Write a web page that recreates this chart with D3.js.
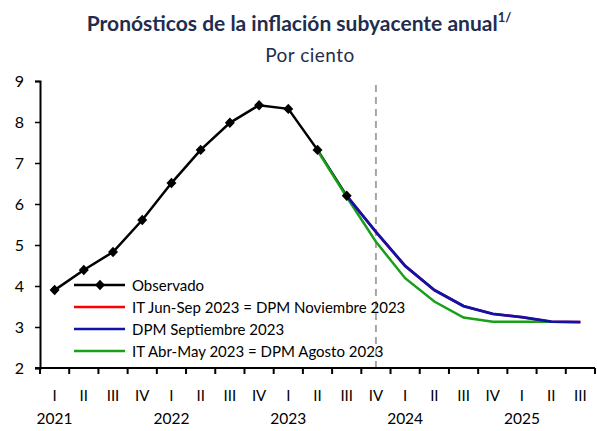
<!DOCTYPE html>
<html>
<head>
<meta charset="utf-8">
<script src="https://cdn.jsdelivr.net/npm/d3@7"></script>
<style>
  body { margin: 0; background: #fff; }
  text { font-family: Lato, "Open Sans", sans-serif; }
</style>
</head>
<body>
<div id="chart"></div>
<script>
// quarters 2021 I .. 2025 III
const quarters = ["I","II","III","IV","I","II","III","IV","I","II","III","IV","I","II","III","IV","I","II","III"];
const years = ["2021","2022","2023","2024","2025"];
const yTicks = [2,3,4,5,6,7,8,9];

// observado: 2021 I .. 2023 III
const observado = [3.90, 4.39, 4.83, 5.61, 6.51, 7.32, 7.98, 8.41, 8.32, 7.32, 6.20];
// forecasts start at 2023 III (index 10)
const itJunSep = [6.20, 5.32, 4.49, 3.90, 3.51, 3.32, 3.24, 3.13, 3.12];
const dpmSep   = [6.20, 5.32, 4.49, 3.90, 3.51, 3.32, 3.24, 3.13, 3.12];
// starts at 2023 II (index 9), ends 2025 II
const itAbrMay = [7.30, 6.17, 5.08, 4.19, 3.62, 3.23, 3.13, 3.13, 3.13];

const W = 597, H = 431;
const mLeft = 40, mRight = 595, mTop = 81, mBottom = 368;

const svg = d3.select("#chart").append("svg")
  .attr("width", W).attr("height", H);

const x = d3.scaleBand()
  .domain(d3.range(quarters.length))
  .range([mLeft, mRight]);
const y = d3.scaleLinear().domain([2, 9]).range([mBottom, mTop]);
const cx = i => x(i) + x.bandwidth() / 2;

// title
const title = svg.append("text")
  .attr("x", 299).attr("y", 31)
  .attr("text-anchor", "middle")
  .attr("font-size", 21).attr("font-weight", "bold")
  .attr("fill", "#1f2d4e")
  .text("Pronósticos de la inflación subyacente anual");
title.append("tspan").attr("dy", -9).attr("font-size", 13).text("1/");

svg.append("text")
  .attr("x", 310).attr("y", 62)
  .attr("text-anchor", "middle")
  .attr("font-size", 19).attr("fill", "#1f2d4e")
  .attr("letter-spacing", 0.5)
  .text("Por ciento");

// dashed vertical line at 2023 IV
svg.append("line")
  .attr("x1", cx(11)).attr("x2", cx(11))
  .attr("y1", 85).attr("y2", mBottom)
  .attr("stroke", "#a6a6a6").attr("stroke-width", 2)
  .attr("stroke-dasharray", "7,5");

// y axis
const yAxis = svg.append("g")
  .attr("transform", `translate(${mLeft},0)`)
  .call(d3.axisLeft(y).tickValues(yTicks).tickFormat(d3.format("d")).tickSize(5).tickPadding(11));
yAxis.select(".domain").attr("stroke-width", 2);
yAxis.selectAll(".tick line").attr("stroke-width", 1.5);
yAxis.selectAll("text").attr("font-size", 16).attr("font-family", "Lato, sans-serif").attr("fill", "#000");

// x axis: ticks at band edges
const edges = d3.range(quarters.length + 1).map(i => mLeft + i * x.step());
const xg = svg.append("g");
xg.append("line")
  .attr("x1", mLeft - 5).attr("x2", mRight)
  .attr("y1", mBottom).attr("y2", mBottom)
  .attr("stroke", "#000").attr("stroke-width", 2);
xg.selectAll(".tk").data(edges).enter().append("line")
  .attr("x1", d => d).attr("x2", d => d)
  .attr("y1", mBottom).attr("y2", mBottom + 6)
  .attr("stroke", "#000").attr("stroke-width", 2);
xg.selectAll(".q").data(quarters).enter().append("text")
  .attr("x", (d, i) => cx(i)).attr("y", 401)
  .attr("text-anchor", "middle").attr("font-size", 15)
  .text(d => d);
xg.selectAll(".yr").data(years).enter().append("text")
  .attr("x", (d, i) => cx(i * 4)).attr("y", 424)
  .attr("text-anchor", "middle").attr("font-size", 15.5)
  .text(d => d);

const line = d3.line().x(d => cx(d.i)).y(d => y(d.v));
const toPts = (arr, start) => arr.map((v, k) => ({i: start + k, v: v}));

svg.append("path").datum(toPts(observado, 0))
  .attr("d", line).attr("fill", "none")
  .attr("stroke", "#000").attr("stroke-width", 2.5);

svg.append("path").datum(toPts(itJunSep, 10))
  .attr("d", line).attr("fill", "none")
  .attr("stroke", "#ff0000").attr("stroke-width", 2.5);
svg.append("path").datum(toPts(itAbrMay, 9))
  .attr("d", line).attr("fill", "none")
  .attr("stroke", "#19a019").attr("stroke-width", 2.5);
svg.append("path").datum(toPts(dpmSep, 10))
  .attr("d", line).attr("fill", "none")
  .attr("stroke", "#1212a8").attr("stroke-width", 2.8);

// square-ish diamond marker
const squareDiamond = {
  draw(ctx, size) {
    const r = Math.sqrt(size / 2);
    ctx.moveTo(0, -r); ctx.lineTo(r * 0.95, 0); ctx.lineTo(0, r); ctx.lineTo(-r * 0.95, 0); ctx.closePath();
  }
};
const diamond = d3.symbol().type(squareDiamond).size(55);
svg.selectAll(".mk").data(toPts(observado, 0)).enter().append("path")
  .attr("d", diamond)
  .attr("transform", d => `translate(${cx(d.i)},${y(d.v)})`)
  .attr("fill", "#000");

// legend
const legend = [
  {name: "Observado", color: "#000", marker: true},
  {name: "IT Jun-Sep 2023 = DPM Noviembre 2023", color: "#ff0000"},
  {name: "DPM Septiembre 2023", color: "#1212a8"},
  {name: "IT Abr-May 2023 = DPM Agosto 2023", color: "#19a019"}
];
const lg = svg.append("g");
legend.forEach((d, i) => {
  const ly = 285 + i * 22;
  lg.append("line")
    .attr("x1", 74).attr("x2", 125).attr("y1", ly).attr("y2", ly)
    .attr("stroke", d.color).attr("stroke-width", 2.5);
  if (d.marker) {
    lg.append("path").attr("d", diamond)
      .attr("transform", `translate(100,${ly})`).attr("fill", "#000");
  }
  lg.append("text")
    .attr("x", 132).attr("y", ly + 5.5)
    .attr("font-size", 15)
    .text(d.name);
});
</script>
</body>
</html>
